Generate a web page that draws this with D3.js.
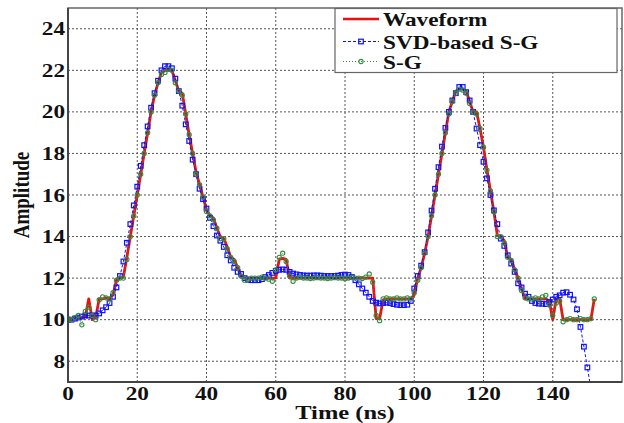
<!DOCTYPE html>
<html>
<head>
<meta charset="utf-8">
<script src="https://cdn.jsdelivr.net/npm/d3@7"></script>
<style>
  html, body { margin: 0; padding: 0; background: #fff; }
  svg { display: block; }
  text { font-family: "Liberation Serif", "Times New Roman", serif; font-weight: bold; fill: #111; }
</style>
</head>
<body>
<div id="chart"></div>
<script>
// Time axis: one sample per ns
const waveform = [
  10.0, 10.0, 10.05, 10.1, 10.1, 10.15, 11.0, 10.0, 10.1, 11.0,
  11.0, 11.05, 11.0, 11.2, 11.9, 12.0, 12.05, 13.0, 14.0, 15.0,
  16.0, 17.0, 18.0, 19.0, 20.0, 20.8, 21.4, 21.9, 22.0, 22.0,
  22.0, 21.5, 21.0, 20.9, 19.9, 18.9, 18.0, 17.1, 16.5, 15.9,
  15.3, 15.0, 14.9, 14.4, 14.0, 13.9, 13.5, 13.0, 12.9, 12.5,
  12.1, 12.0, 12.0, 12.0, 12.0, 12.0, 12.0, 12.0, 12.0, 12.0,
  12.0, 12.9, 12.95, 12.9, 12.0, 12.0, 12.0, 12.0, 12.0, 12.0,
  12.0, 12.0, 12.0, 12.0, 12.0, 12.0, 12.0, 12.0, 12.0, 12.0,
  12.0, 12.0, 12.0, 12.0, 12.0, 12.0, 12.0, 12.0, 12.0, 10.05,
  10.05, 10.95, 11.0, 11.0, 11.0, 11.0, 11.0, 11.0, 11.0, 11.0,
  11.2, 12.0, 12.5, 13.2, 14.0, 15.0, 16.0, 17.0, 18.0, 19.0,
  20.0, 20.5, 21.0, 21.1, 21.1, 21.0, 20.5, 20.0, 20.0, 19.2,
  18.3, 17.2, 16.2, 15.2, 14.05, 14.0, 13.8, 13.0, 12.9, 12.4,
  12.0, 11.5, 11.0, 11.0, 11.0, 11.0, 11.0, 11.0, 11.0, 10.9,
  10.0, 11.0, 11.0, 10.0, 10.0, 10.0, 10.0, 10.0, 10.0, 10.0,
  10.0, 10.0, 11.0
];

const svdSG = [
  10.0, 10.0, 10.05, 10.1, 10.15, 10.2, 10.2, 10.2, 10.2, 10.3,
  10.45, 10.6, 10.8, 11.1, 11.55, 12.1, 12.8, 13.7, 14.6, 15.5,
  16.4, 17.4, 18.4, 19.3, 20.2, 20.9, 21.5, 22.0, 22.2, 22.2,
  22.1, 21.6, 21.0, 20.3, 19.4, 18.6, 17.7, 17.0, 16.3, 15.8,
  15.35, 14.9, 14.5, 14.05, 13.8, 13.5, 13.1, 12.85, 12.5, 12.3,
  12.2, 12.0, 11.92, 11.9, 11.9, 11.9, 11.95, 12.05, 12.15, 12.25,
  12.35, 12.4, 12.42, 12.4, 12.3, 12.22, 12.18, 12.15, 12.13, 12.12,
  12.12, 12.13, 12.13, 12.12, 12.1, 12.1, 12.1, 12.1, 12.12, 12.15,
  12.17, 12.15, 12.05, 11.9, 11.7, 11.5, 11.3, 11.1, 10.9, 10.82,
  10.78, 10.8, 10.82, 10.8, 10.75, 10.72, 10.7, 10.7, 10.72, 10.9,
  11.5, 12.1, 12.6, 13.25, 14.2, 15.25, 16.3, 17.34, 18.33, 19.23,
  20.0, 20.55, 20.9, 21.2, 21.2, 20.95, 20.55, 20.0, 19.2, 18.4,
  17.6, 16.8, 16.0, 15.26, 14.6, 13.9, 13.55, 13.1, 12.7, 12.3,
  11.75, 11.55, 11.25, 11.1, 10.9, 10.8, 10.77, 10.77, 10.75, 10.85,
  10.97, 11.1, 11.17, 11.3, 11.32, 11.2, 10.97, 10.5, 9.65, 8.7,
  7.7, 6.7
];

const sg = [
  10.0, 10.0, 10.1, 10.2, 9.75, 10.4, 10.6, 10.2, 10.0, 10.95,
  11.1, 11.05, 11.0, 11.3, 11.9, 12.0, 12.0, 12.9, 14.0, 15.0,
  16.0, 17.0, 18.0, 19.0, 20.0, 20.8, 21.4, 21.8, 21.9, 22.05,
  22.0, 21.4, 21.0, 20.8, 19.9, 18.9, 18.0, 17.0, 16.5, 15.9,
  15.2, 15.0, 14.8, 14.4, 13.9, 13.9, 13.4, 13.0, 12.8, 12.5,
  12.1, 11.9, 11.95, 12.0, 12.0, 12.0, 12.05, 12.0, 11.95, 11.85,
  12.4, 13.0, 13.2, 12.8, 12.1, 11.85, 12.0, 12.05, 12.0, 12.0,
  11.98, 12.0, 12.02, 12.0, 12.0, 11.98, 12.0, 12.02, 12.0, 12.0,
  11.97, 12.0, 12.03, 12.0, 12.0, 11.98, 12.05, 12.2, 11.8, 10.2,
  9.95, 11.0, 11.05, 11.0, 11.0, 11.05, 11.0, 11.0, 11.05, 11.0,
  11.3, 11.9, 12.5, 13.2, 14.0, 15.0, 16.0, 17.0, 18.0, 19.0,
  19.9, 20.5, 20.9, 21.1, 21.05, 20.9, 20.4, 20.0, 19.9, 19.2,
  18.3, 17.2, 16.2, 15.2, 14.0, 14.0, 13.7, 13.0, 12.85, 12.4,
  12.0, 11.4, 11.05, 11.0, 11.0, 11.05, 11.0, 11.1, 11.17, 10.7,
  10.2, 10.8, 10.9, 9.9, 10.0, 10.05, 10.0, 10.0, 10.05, 10.0,
  10.0, 10.05, 11.0
];

const xTicks = [0, 20, 40, 60, 80, 100, 120, 140];
const yTicks = [8, 10, 12, 14, 16, 18, 20, 22, 24];
const seriesNames = ['Waveform', 'SVD-based S-G', 'S-G'];

const W = 624, H = 423;
const plot = { left: 68, right: 622, top: 8, bottom: 382 };
const stretch = 1.29; // glyphs in the reference are wide

const colors = { red: '#f20d0d', blue: '#1010ff', green: '#2f8f3f' };

const svg = d3.select('#chart').append('svg')
  .attr('width', W)
  .attr('height', H);

const x = d3.scaleLinear().domain([0, 160]).range([plot.left, plot.right]);
const y = d3.scaleLinear().domain([7, 25]).range([plot.bottom, plot.top]);

svg.append('defs').append('clipPath').attr('id', 'clip')
  .append('rect')
  .attr('x', plot.left).attr('y', plot.top)
  .attr('width', plot.right - plot.left).attr('height', plot.bottom - plot.top);

// Grid
const grid = svg.append('g').attr('class', 'grid');
grid.selectAll('.vgrid').data(xTicks.filter(d => d > 0)).enter().append('line')
  .attr('x1', d => x(d)).attr('x2', d => x(d))
  .attr('y1', plot.top).attr('y2', plot.bottom)
  .attr('stroke', '#555').attr('stroke-width', 1).attr('stroke-dasharray', '2,2');
grid.selectAll('.hgrid').data(yTicks).enter().append('line')
  .attr('x1', plot.left).attr('x2', plot.right)
  .attr('y1', d => y(d)).attr('y2', d => y(d))
  .attr('stroke', '#555').attr('stroke-width', 1).attr('stroke-dasharray', '2,2');

// Stretched bold serif label
function label(parent, px, py, str, size, anchor) {
  return parent.append('text')
    .attr('transform', `translate(${px},${py}) scale(${stretch},1)`)
    .attr('text-anchor', anchor)
    .attr('font-size', size)
    .text(str);
}

const axes = svg.append('g').attr('class', 'axes');
xTicks.forEach(t => label(axes, x(t), 400, t, 18, 'middle'));
yTicks.forEach(t => label(axes, 65, y(t) + 6.5, t, 18, 'end'));
label(axes, (plot.left + plot.right) / 2, 419, 'Time (ns)', 19, 'middle');
axes.append('text')
  .attr('transform', `translate(29,${(plot.top + plot.bottom) / 2}) scale(1.25,1) rotate(-90)`)
  .attr('text-anchor', 'middle')
  .attr('font-size', 19)
  .text('Amplitude');

// Series
const data = arr => arr.map((v, i) => [i, v]);
const line = d3.line().x(d => x(d[0])).y(d => y(d[1]));
const layer = svg.append('g').attr('clip-path', 'url(#clip)');

layer.append('path').datum(data(waveform))
  .attr('d', line).attr('fill', 'none')
  .attr('stroke', colors.red).attr('stroke-width', 2.8).attr('stroke-linejoin', 'round');

layer.append('path').datum(data(svdSG))
  .attr('d', line).attr('fill', 'none')
  .attr('stroke', colors.blue).attr('stroke-width', 1).attr('stroke-dasharray', '3,2');
layer.selectAll('.sq').data(data(svdSG)).enter().append('rect')
  .attr('x', d => x(d[0]) - 2.3).attr('y', d => y(d[1]) - 2.3)
  .attr('width', 4.6).attr('height', 4.6)
  .attr('fill', 'none').attr('stroke', colors.blue).attr('stroke-width', 1.2);

layer.append('path').datum(data(sg))
  .attr('d', line).attr('fill', 'none')
  .attr('stroke', colors.green).attr('stroke-width', 1).attr('stroke-dasharray', '1,2');
layer.selectAll('.ci').data(data(sg)).enter().append('circle')
  .attr('cx', d => x(d[0])).attr('cy', d => y(d[1])).attr('r', 2.1)
  .attr('fill', 'none').attr('stroke', colors.green).attr('stroke-width', 1.1);

// Frame
svg.append('rect')
  .attr('x', plot.left).attr('y', plot.top)
  .attr('width', plot.right - plot.left).attr('height', plot.bottom - plot.top)
  .attr('fill', 'none').attr('stroke', '#666').attr('stroke-width', 1.5);
svg.append('path')
  .attr('d', `M${plot.left},${plot.top}V${plot.bottom}H${plot.right}`)
  .attr('fill', 'none').attr('stroke', '#444').attr('stroke-width', 2);

// Legend
const lg = svg.append('g').attr('class', 'legend');
lg.append('rect').attr('x', 335).attr('y', 8.5).attr('width', 282).attr('height', 64)
  .attr('fill', '#fff').attr('stroke', '#666').attr('stroke-width', 1.2);
const rows = [19, 41.5, 61.5];
const bases = [26, 48.5, 68.5];
lg.append('line').attr('x1', 343).attr('x2', 379).attr('y1', rows[0]).attr('y2', rows[0])
  .attr('stroke', colors.red).attr('stroke-width', 2.6);
lg.append('line').attr('x1', 343).attr('x2', 379).attr('y1', rows[1]).attr('y2', rows[1])
  .attr('stroke', colors.blue).attr('stroke-width', 1).attr('stroke-dasharray', '3,2');
lg.append('rect').attr('x', 358.7).attr('y', rows[1] - 2.3).attr('width', 4.6).attr('height', 4.6)
  .attr('fill', 'none').attr('stroke', colors.blue).attr('stroke-width', 1.2);
lg.append('line').attr('x1', 343).attr('x2', 379).attr('y1', rows[2]).attr('y2', rows[2])
  .attr('stroke', colors.green).attr('stroke-width', 1).attr('stroke-dasharray', '1,2');
lg.append('circle').attr('cx', 361).attr('cy', rows[2]).attr('r', 2.1)
  .attr('fill', 'none').attr('stroke', colors.green).attr('stroke-width', 1.1);
seriesNames.forEach((name, i) => label(lg, 383, bases[i], name, 18, 'start'));
</script>
</body>
</html>
